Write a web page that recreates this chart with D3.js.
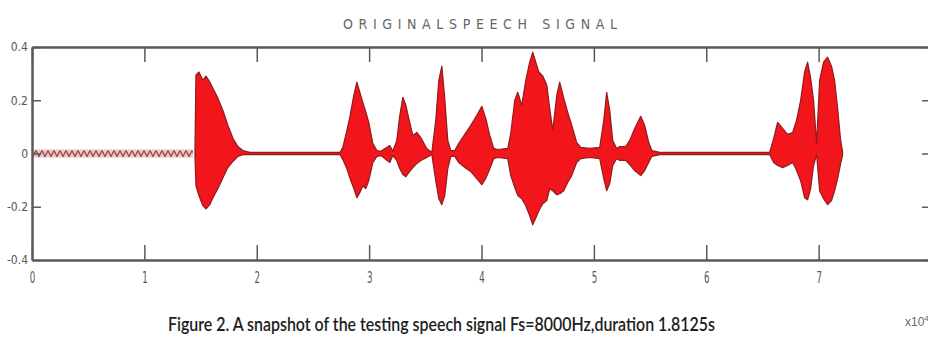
<!DOCTYPE html>
<html>
<head>
<meta charset="utf-8">
<script src="https://cdn.jsdelivr.net/npm/d3@7"></script>
<style>
  body { margin: 0; background: #fff; }
  svg { display: block; }
</style>
</head>
<body>
<svg id="chart" width="928" height="338"></svg>
<script>
// values (x in units of 10^4 samples)
const xTicks = [0, 1, 2, 3, 4, 5, 6, 7, 8];
const xTickLabels = ["0", "1", "2", "3", "4", "5", "6", "7", ""];
const yTicks = [-0.4, -0.2, 0, 0.2, 0.4];
const yTickLabels = ["-0.4", "-0.2", "0", "0.2", "0.4"];

// leading low-level hum before the speech starts
const humX = [0, 1.432];
const humAmp = [0.015, 0.015];

// envelope of the speech part
const envX = [1.450, 1.459, 1.485, 1.521, 1.548, 1.583, 1.610, 1.654, 1.699, 1.743, 1.788, 1.832, 1.877,
  1.939, 2.740, 2.766, 2.802, 2.828, 2.864, 2.891, 2.917, 2.944, 2.971, 2.997, 3.033, 3.069, 3.104,
  3.184, 3.211, 3.246, 3.273, 3.300, 3.327, 3.353, 3.389, 3.424, 3.460, 3.513, 3.558,
  3.593, 3.620, 3.647, 3.673, 3.700, 3.727, 3.762,
  3.798, 3.851, 3.905, 3.958, 4.003, 4.038, 4.074, 4.109, 4.145, 4.234,
  4.260, 4.296, 4.323, 4.358, 4.394, 4.429, 4.456, 4.483, 4.510, 4.545, 4.581, 4.607, 4.634, 4.670,
  4.696, 4.732, 4.767, 4.803, 4.847, 4.883, 4.963, 5.052,
  5.088, 5.114, 5.141, 5.168, 5.203, 5.230, 5.283,
  5.319, 5.363, 5.417, 5.452, 5.488, 5.515, 5.586, 6.564,
  6.600, 6.635, 6.680, 6.724, 6.769, 6.804, 6.840, 6.875, 6.902, 6.929, 6.955, 6.982,
  7.009, 7.044, 7.080, 7.115, 7.142, 7.169, 7.196, 7.213];
const envUpper = [0.011, 0.294, 0.306, 0.275, 0.291, 0.268, 0.245, 0.208, 0.162, 0.106, 0.057, 0.026, 0.011,
  0.004, 0.004, 0.023, 0.087, 0.136, 0.219, 0.268, 0.230, 0.192, 0.155, 0.117, 0.038, 0.011, 0.008,
  0.030, 0.008, 0.049, 0.143, 0.211, 0.181, 0.132, 0.068, 0.079, 0.060, 0.019, 0.004,
  0.125, 0.275, 0.328, 0.208, 0.049, 0.011, 0.011,
  0.038, 0.072, 0.106, 0.143, 0.177, 0.132, 0.068, 0.019, 0.015, 0.019,
  0.075, 0.200, 0.230, 0.181, 0.275, 0.343, 0.381, 0.343, 0.306, 0.291, 0.257, 0.170, 0.087, 0.219,
  0.268, 0.208, 0.155, 0.106, 0.042, 0.023, 0.019, 0.023,
  0.125, 0.230, 0.162, 0.049, 0.019, 0.026, 0.026,
  0.049, 0.094, 0.140, 0.106, 0.042, 0.011, 0.004, 0.004,
  0.057, 0.117, 0.094, 0.072, 0.079, 0.125, 0.200, 0.306, 0.343, 0.283, 0.200, 0.038,
  0.275, 0.343, 0.362, 0.328, 0.275, 0.170, 0.049, 0.008];
const envLower = [-0.011, -0.121, -0.158, -0.196, -0.208, -0.192, -0.166, -0.132, -0.091, -0.053, -0.030, -0.011, -0.004,
  -0.004, -0.004, -0.023, -0.057, -0.091, -0.132, -0.166, -0.147, -0.121, -0.132, -0.102, -0.034, -0.011, -0.008,
  -0.034, -0.008, -0.026, -0.057, -0.079, -0.087, -0.072, -0.053, -0.038, -0.026, -0.015, -0.004,
  -0.102, -0.170, -0.192, -0.158, -0.057, -0.011, -0.011,
  -0.034, -0.053, -0.068, -0.094, -0.117, -0.094, -0.057, -0.019, -0.015, -0.019,
  -0.083, -0.128, -0.158, -0.170, -0.196, -0.234, -0.268, -0.242, -0.215, -0.189, -0.177, -0.132, -0.140, -0.155,
  -0.151, -0.140, -0.109, -0.083, -0.034, -0.019, -0.015, -0.019,
  -0.094, -0.140, -0.113, -0.045, -0.019, -0.026, -0.026,
  -0.042, -0.064, -0.083, -0.064, -0.034, -0.011, -0.004, -0.004,
  -0.034, -0.045, -0.053, -0.045, -0.034, -0.064, -0.102, -0.166, -0.174, -0.132, -0.045, -0.004,
  -0.140, -0.170, -0.192, -0.177, -0.140, -0.094, -0.038, -0.008];

const svg = d3.select("#chart");
const margin = { left: 32, top: 47, right: 931, bottom: 260 };

const x = d3.scaleLinear().domain([0, 8]).range([margin.left, margin.right]);
const y = d3.scaleLinear().domain([-0.4, 0.4]).range([margin.bottom, margin.top]);

// zigzag texture for the hum
const defs = svg.append("defs");
const pat = defs.append("pattern")
  .attr("id", "zig")
  .attr("patternUnits", "userSpaceOnUse")
  .attr("width", 6).attr("height", 8)
  .attr("y", y(0.015));
pat.append("rect").attr("width", 6).attr("height", 8).attr("fill", "#efc8c8");
pat.append("path")
  .attr("d", "M0,1 L3,7 L6,1")
  .attr("fill", "none")
  .attr("stroke", "#8c2f2f")
  .attr("stroke-width", 1.1);

// hum band
const hum = humX.map((d, i) => ({ x: d, hi: humAmp[i], lo: -humAmp[i] }));
svg.append("path")
  .datum(hum)
  .attr("d", d3.area().x(d => x(d.x)).y0(d => y(d.lo)).y1(d => y(d.hi)))
  .attr("fill", "url(#zig)");

// speech envelope
const env = envX.map((d, i) => ({ x: d, hi: envUpper[i], lo: envLower[i] }));
svg.append("path")
  .datum(env)
  .attr("d", d3.area().x(d => x(d.x)).y0(d => y(d.lo)).y1(d => y(d.hi)))
  .attr("fill", "#f2151b")
  .attr("stroke", "#8e1d1d")
  .attr("stroke-width", 1.2)
  .attr("stroke-linejoin", "round");

// box axes, matlab style (ticks pointing inward)
const axisColor = "#5a5a5a";
function styleAxis(g) {
  g.select(".domain").attr("stroke", axisColor).attr("stroke-width", 2.5);
  g.selectAll(".tick line").attr("stroke", axisColor).attr("stroke-width", 1.5);
  g.selectAll(".tick text")
    .attr("fill", "#555")
    .style("font-family", "'Liberation Sans Narrow', 'DejaVu Sans Condensed', sans-serif");
}

svg.append("g")
  .attr("transform", `translate(0,${margin.bottom})`)
  .call(d3.axisBottom(x).tickValues(xTicks).tickSizeInner(-15).tickSizeOuter(0).tickPadding(12)
    .tickFormat((d, i) => xTickLabels[i]))
  .call(styleAxis)
  .call(g => g.selectAll(".tick text").style("font-size", "16px").attr("transform", "scale(0.6,1)"));

svg.append("g")
  .attr("transform", `translate(0,${margin.top})`)
  .call(d3.axisTop(x).tickValues(xTicks).tickSizeInner(-15).tickSizeOuter(0).tickFormat(""))
  .call(styleAxis);

svg.append("g")
  .attr("transform", `translate(${margin.left},0)`)
  .call(d3.axisLeft(y).tickValues(yTicks).tickSizeInner(-9).tickSizeOuter(0).tickPadding(4)
    .tickFormat((d, i) => yTickLabels[i]))
  .call(styleAxis)
  .call(g => g.selectAll(".tick text").style("font-size", "12px"));

svg.append("g")
  .attr("transform", `translate(${margin.right},0)`)
  .call(d3.axisRight(y).tickValues(yTicks).tickSizeInner(-9).tickSizeOuter(0).tickFormat(""))
  .call(styleAxis);

// title
svg.append("text")
  .attr("x", 343).attr("y", 29)
  .attr("textLength", 274)
  .attr("lengthAdjust", "spacing")
  .style("font-family", "'Liberation Sans Narrow', 'DejaVu Sans Condensed', sans-serif")
  .style("font-size", "14px")
  .attr("fill", "#666")
  .text("ORIGINALSPEECH SIGNAL");

// exponent label
const ex = svg.append("text")
  .attr("x", 905).attr("y", 326)
  .style("font-family", "'Liberation Sans Narrow', sans-serif")
  .style("font-size", "12px")
  .attr("fill", "#666");
ex.append("tspan").text("x10");
ex.append("tspan").attr("dy", -5).style("font-size", "8px").text("4");

// caption
svg.append("text")
  .attr("x", 168).attr("y", 331)
  .attr("textLength", 547)
  .attr("lengthAdjust", "spacingAndGlyphs")
  .style("font-family", "Lato, 'Open Sans', sans-serif")
  .style("font-size", "19px")
  .style("font-weight", "600")
  .attr("fill", "#1e1e1e")
  .text("Figure 2. A snapshot of the testing speech signal Fs=8000Hz,duration 1.8125s");
</script>
</body>
</html>
